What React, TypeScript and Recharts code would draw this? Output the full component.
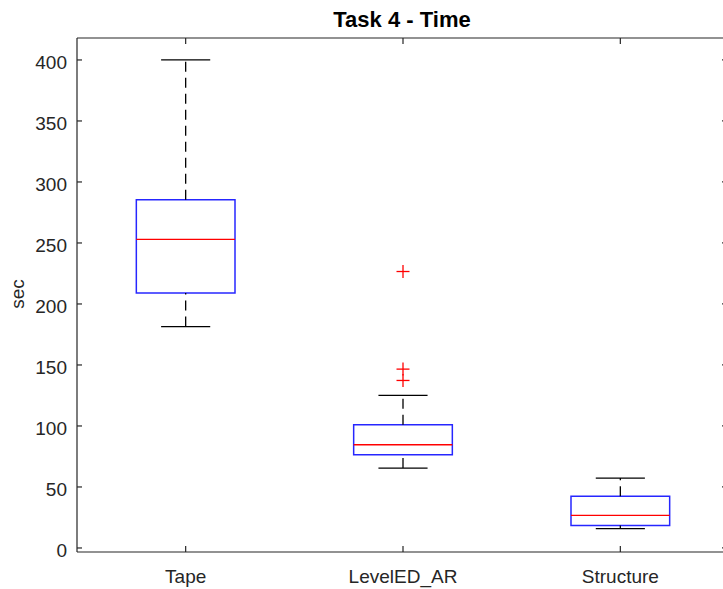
import React from 'react';
import { ComposedChart, XAxis, YAxis, ReferenceArea, ReferenceLine, Scatter } from 'recharts';

// box plot summary per group
const categories = ['Tape', 'LevelED_AR', 'Structure'];
const whiskerLow = [181.5, 65.5, 15.8];
const q1 = [209, 76.4, 18.5];
const medians = [253, 84.6, 26.7];
const q3 = [285.4, 101, 42.3];
const whiskerHigh = [400, 125, 57.3];
const outliers = [[], [226.6, 146.6, 137.3], []];
const yTicks = [0, 50, 100, 150, 200, 250, 300, 350, 400];

const FONT = '"Liberation Sans", Arial, Helvetica, sans-serif';
const AXIS = '#262626';
const BOX_HALF = 0.227;
const CAP_HALF = 0.113;
const X_DOMAIN = [0.5, 3.5];
const Y_DOMAIN = [-3.3, 418];

const outlierPoints = outliers.flatMap((vals, i) => vals.map((v) => ({ x: i + 1, y: v })));

// labels plus inward tick marks (MATLAB style)
const XTick = (props: any) => {
    const { x, y, payload } = props;
    const axisY = y - 18;
    return (
        <g>
            <line x1={x} y1={axisY} x2={x} y2={axisY - 6} stroke={AXIS} strokeWidth={1.2} />
            <text x={x} y={y} dy={12.5} textAnchor="middle" fontSize={19} fontFamily={FONT} fill={AXIS}>
                {categories[payload.value - 1]}
            </text>
        </g>
    );
};

const YTick = (props: any) => {
    const { x, y, payload } = props;
    const axisX = x + 10;
    return (
        <g>
            <line x1={axisX} y1={y} x2={axisX + 5} y2={y} stroke={AXIS} strokeWidth={1.2} />
            <text x={x} y={y} dy={9.5} textAnchor="end" fontSize={19} fontFamily={FONT} fill={AXIS}>
                {payload.value}
            </text>
        </g>
    );
};

const Plus = (props: any) => {
    const { cx, cy } = props;
    if (cx == null || cy == null) return null;
    return (
        <g stroke="#ff0000" strokeWidth={1.3}>
            <line x1={cx - 6.5} y1={cy} x2={cx + 6.5} y2={cy} />
            <line x1={cx} y1={cy - 6.5} x2={cx} y2={cy + 6.5} />
        </g>
    );
};

const App: React.FC = () => {
    return (
        <div style={{ position: 'absolute', left: 0, top: 0, width: 723, height: 589, overflow: 'hidden', background: '#fff' }}>
            <ComposedChart width={737} height={589} margin={{ top: 38, right: 8, left: 0, bottom: 0 }}>
                <XAxis
                    dataKey="x"
                    type="number"
                    domain={X_DOMAIN}
                    ticks={[1, 2, 3]}
                    allowDataOverflow
                    height={37}
                    tickLine={false}
                    tickSize={0}
                    tickMargin={18}
                    tick={<XTick />}
                    stroke={AXIS}
                    strokeWidth={1.2}
                />
                <YAxis
                    dataKey="y"
                    type="number"
                    domain={Y_DOMAIN}
                    ticks={yTicks}
                    allowDataOverflow
                    width={77}
                    tickLine={false}
                    tickSize={0}
                    tickMargin={10}
                    tick={<YTick />}
                    stroke={AXIS}
                    strokeWidth={1.2}
                />

                {/* top and right box edges with their inward ticks */}
                <ReferenceLine y={Y_DOMAIN[1]} stroke={AXIS} strokeWidth={1.2} />
                <ReferenceLine x={X_DOMAIN[1]} stroke={AXIS} strokeWidth={1.2} />
                {[1, 2, 3].map((t) => (
                    <ReferenceLine key={`tt${t}`} segment={[{ x: t, y: Y_DOMAIN[1] }, { x: t, y: Y_DOMAIN[1] - 5 }]} stroke={AXIS} strokeWidth={1.2} />
                ))}
                {yTicks.map((t) => (
                    <ReferenceLine key={`rt${t}`} segment={[{ x: X_DOMAIN[1] - 0.032, y: t }, { x: X_DOMAIN[1], y: t }]} stroke={AXIS} strokeWidth={1.2} />
                ))}

                {categories.map((c, i) => {
                    const x = i + 1;
                    return (
                        <React.Fragment key={c}>
                            {/* whiskers */}
                            <ReferenceLine segment={[{ x, y: q3[i] }, { x, y: whiskerHigh[i] }]} stroke="#000" strokeWidth={1.3} strokeDasharray="10 6" />
                            <ReferenceLine segment={[{ x, y: whiskerLow[i] }, { x, y: q1[i] }]} stroke="#000" strokeWidth={1.3} strokeDasharray="10 6" />
                            <ReferenceLine segment={[{ x: x - CAP_HALF, y: whiskerHigh[i] }, { x: x + CAP_HALF, y: whiskerHigh[i] }]} stroke="#000" strokeWidth={1.3} />
                            <ReferenceLine segment={[{ x: x - CAP_HALF, y: whiskerLow[i] }, { x: x + CAP_HALF, y: whiskerLow[i] }]} stroke="#000" strokeWidth={1.3} />
                            {/* box */}
                            <ReferenceArea x1={x - BOX_HALF} x2={x + BOX_HALF} y1={q1[i]} y2={q3[i]} fill="none" fillOpacity={0} stroke="#0000ff" strokeWidth={1.5} strokeOpacity={0.85} />
                            {/* median */}
                            <ReferenceLine segment={[{ x: x - BOX_HALF, y: medians[i] }, { x: x + BOX_HALF, y: medians[i] }]} stroke="#ff0000" strokeWidth={1.3} />
                        </React.Fragment>
                    );
                })}

                <Scatter data={outlierPoints} shape={<Plus />} isAnimationActive={false} />
            </ComposedChart>

            <svg width={723} height={589} style={{ position: 'absolute', left: 0, top: 0, pointerEvents: 'none' }}>
                <text x={402} y={27} textAnchor="middle" fontSize={22} fontWeight="bold" fontFamily={FONT} fill="#000">
                    Task 4 - Time
                </text>
                <text
                    x={0}
                    y={0}
                    transform="translate(24 294) rotate(-90)"
                    textAnchor="middle"
                    fontSize={19}
                    fontFamily={FONT}
                    fill={AXIS}
                >
                    sec
                </text>
            </svg>
        </div>
    );
};

export default App;
